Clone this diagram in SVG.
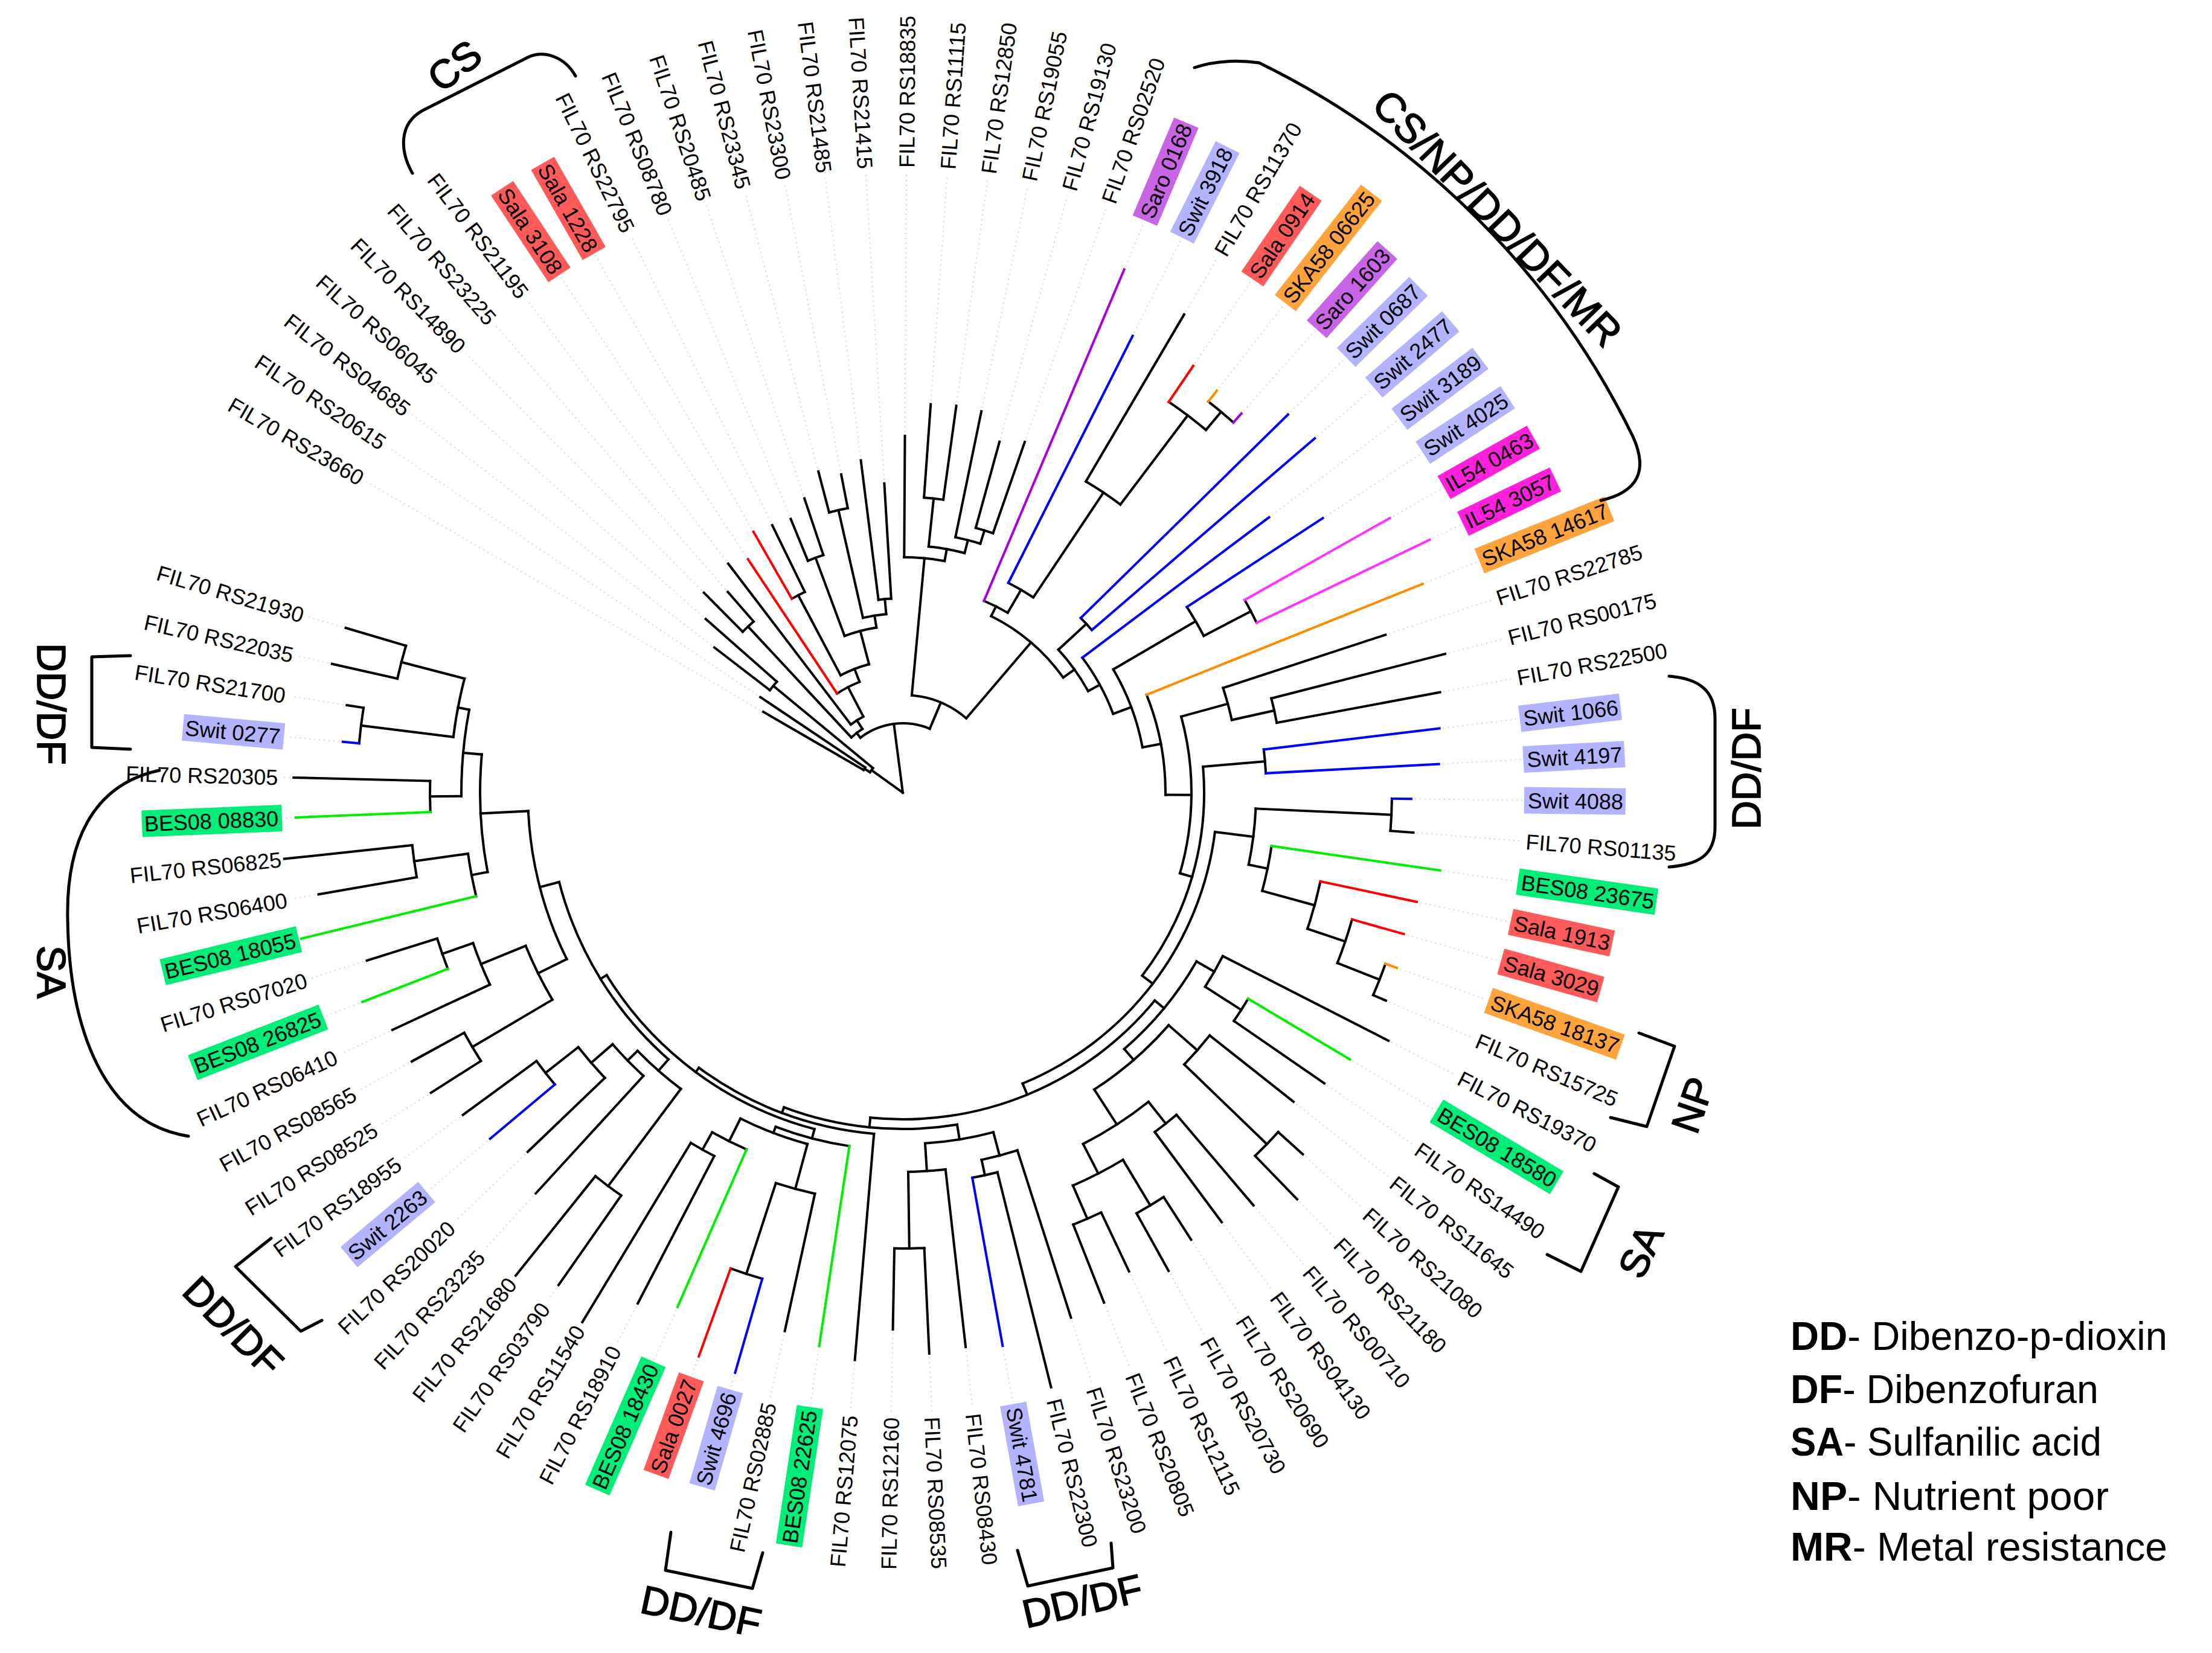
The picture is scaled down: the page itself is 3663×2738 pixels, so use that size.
<svg xmlns="http://www.w3.org/2000/svg" width="3663" height="2738" viewBox="0 0 3663 2738">
<style>
.t{font-family:"Liberation Sans",Arial,sans-serif;font-size:36px;fill:#000}
.l{text-anchor:end}
.g{stroke:#d6d6d6;stroke-width:2;stroke-dasharray:2 6;fill:none}
.a{font-family:"Liberation Sans",Arial,sans-serif;font-size:66px;fill:#000;stroke:#000;stroke-width:1.6px;text-anchor:middle}
.br{fill:none;stroke:#000;stroke-width:5;stroke-linecap:round;stroke-linejoin:round}
.r{stroke:#f00}.u{stroke:#00f}.e{stroke:#0e0}.o{stroke:#ff8c00}.p{stroke:#a0d}.m{stroke:#f3f}
.bs{fill:#ff5a5a}.bw{fill:#b3b3ff}.bo{fill:#c864e6}.bk{fill:#ffa33c}.bi{fill:#ff20dc}.bb{fill:#00ee77}
</style>
<rect width="3663" height="2738" fill="#fff"/>
<g id="connectors" transform="translate(1495 1313)" fill="none" stroke="#000" stroke-width="4" stroke-linecap="square">
<path d="M0 0H64" transform="rotate(215.76)"/><path d="M0 0H115" transform="rotate(262.6)"/>
<circle r="64" pathLength="360" stroke-dasharray="7.53 999" transform="rotate(211.99)"/><path d="M64 0H75" transform="rotate(211.99)"/><path d="M64 0H278" transform="rotate(219.52)"/>
<circle r="75" pathLength="360" stroke-dasharray="3.77 999" transform="rotate(210.1)"/><path d="M75 0H267" transform="rotate(210.1)"/><path d="M75 0H284" transform="rotate(213.87)"/>
<circle r="278" pathLength="360" stroke-dasharray="3.77 999" transform="rotate(217.63)"/><path d="M278 0H394" transform="rotate(217.63)"/><path d="M278 0H435" transform="rotate(221.4)"/>
<circle r="115" pathLength="360" stroke-dasharray="60.53 999" transform="rotate(232.34)"/><path d="M115 0H125" transform="rotate(232.34)"/><path d="M115 0H162" transform="rotate(292.87)"/>
<circle r="125" pathLength="360" stroke-dasharray="10.59 999" transform="rotate(227.04)"/><path d="M125 0H376" transform="rotate(227.04)"/><path d="M125 0H142" transform="rotate(237.63)"/>
<circle r="376" pathLength="360" stroke-dasharray="3.77 999" transform="rotate(225.16)"/><path d="M376 0H467" transform="rotate(225.16)"/><path d="M376 0H441" transform="rotate(228.93)"/>
<circle r="142" pathLength="360" stroke-dasharray="9.89 999" transform="rotate(232.69)"/><path d="M142 0H477" transform="rotate(232.69)"/><path d="M142 0H197" transform="rotate(242.58)"/>
<circle r="197" pathLength="360" stroke-dasharray="12.23 999" transform="rotate(236.46)"/><path class="r" d="M197 0H464" transform="rotate(236.46)"/><path d="M197 0H220" transform="rotate(248.69)"/>
<circle r="220" pathLength="360" stroke-dasharray="13.18 999" transform="rotate(242.1)"/><path d="M220 0H370" transform="rotate(242.1)"/><path d="M220 0H277" transform="rotate(255.28)"/>
<circle r="370" pathLength="360" stroke-dasharray="3.77 999" transform="rotate(240.22)"/><path class="r" d="M370 0H498" transform="rotate(240.22)"/><path d="M370 0H493" transform="rotate(243.99)"/>
<circle r="277" pathLength="360" stroke-dasharray="11.3 999" transform="rotate(249.63)"/><path d="M277 0H415" transform="rotate(249.63)"/><path d="M277 0H297" transform="rotate(260.93)"/>
<circle r="415" pathLength="360" stroke-dasharray="3.77 999" transform="rotate(247.75)"/><path d="M415 0H490" transform="rotate(247.75)"/><path d="M415 0H514" transform="rotate(251.52)"/>
<circle r="297" pathLength="360" stroke-dasharray="7.53 999" transform="rotate(257.17)"/><path d="M297 0H480" transform="rotate(257.17)"/><path d="M297 0H322" transform="rotate(264.7)"/>
<circle r="480" pathLength="360" stroke-dasharray="3.77 999" transform="rotate(255.28)"/><path d="M480 0H550" transform="rotate(255.28)"/><path d="M480 0H537" transform="rotate(259.05)"/>
<circle r="322" pathLength="360" stroke-dasharray="3.77 999" transform="rotate(262.81)"/><path d="M322 0H555" transform="rotate(262.81)"/><path d="M322 0H513" transform="rotate(266.58)"/>
<circle r="162" pathLength="360" stroke-dasharray="35.18 999" transform="rotate(275.28)"/><path d="M162 0H390" transform="rotate(275.28)"/><path d="M162 0H327" transform="rotate(310.46)"/>
<circle r="390" pathLength="360" stroke-dasharray="9.89 999" transform="rotate(270.34)"/><path d="M390 0H591" transform="rotate(270.34)"/><path d="M390 0H410" transform="rotate(280.23)"/>
<circle r="410" pathLength="360" stroke-dasharray="8.47 999" transform="rotate(275.99)"/><path d="M410 0H490" transform="rotate(275.99)"/><path d="M410 0H432" transform="rotate(284.46)"/>
<circle r="490" pathLength="360" stroke-dasharray="3.76 999" transform="rotate(274.11)"/><path d="M490 0H645" transform="rotate(274.11)"/><path d="M490 0H647" transform="rotate(277.87)"/>
<circle r="432" pathLength="360" stroke-dasharray="5.65 999" transform="rotate(281.64)"/><path d="M432 0H645" transform="rotate(281.64)"/><path d="M432 0H455" transform="rotate(287.29)"/>
<circle r="455" pathLength="360" stroke-dasharray="3.77 999" transform="rotate(285.4)"/><path d="M455 0H603" transform="rotate(285.4)"/><path d="M455 0H615" transform="rotate(289.17)"/>
<circle r="327" pathLength="360" stroke-dasharray="27.75 999" transform="rotate(296.58)"/><path d="M327 0H345" transform="rotate(296.58)"/><path d="M327 0H350" transform="rotate(324.33)"/>
<circle r="345" pathLength="360" stroke-dasharray="7.3 999" transform="rotate(292.93)"/><path class="p" d="M345 0H941" transform="rotate(292.93)"/><path d="M345 0H389" transform="rotate(300.23)"/>
<circle r="389" pathLength="360" stroke-dasharray="7.06 999" transform="rotate(296.7)"/><path class="u" d="M389 0H847" transform="rotate(296.7)"/><path d="M389 0H598" transform="rotate(303.76)"/>
<circle r="598" pathLength="360" stroke-dasharray="6.59 999" transform="rotate(300.46)"/><path d="M598 0H919" transform="rotate(300.46)"/><path d="M598 0H783" transform="rotate(307.05)"/>
<circle r="783" pathLength="360" stroke-dasharray="5.65 999" transform="rotate(304.23)"/><path class="r" d="M783 0H855" transform="rotate(304.23)"/><path d="M783 0H822" transform="rotate(309.88)"/>
<circle r="822" pathLength="360" stroke-dasharray="3.77 999" transform="rotate(307.99)"/><path class="o" d="M822 0H845" transform="rotate(307.99)"/><path class="p" d="M822 0H842" transform="rotate(311.76)"/>
<circle r="350" pathLength="360" stroke-dasharray="13.86 999" transform="rotate(317.4)"/><path d="M350 0H413" transform="rotate(317.4)"/><path d="M350 0H372" transform="rotate(331.26)"/>
<circle r="413" pathLength="360" stroke-dasharray="3.77 999" transform="rotate(315.52)"/><path class="u" d="M413 0H894" transform="rotate(315.52)"/><path class="u" d="M413 0H900" transform="rotate(319.29)"/>
<circle r="372" pathLength="360" stroke-dasharray="16.41 999" transform="rotate(323.05)"/><path class="u" d="M372 0H759" transform="rotate(323.05)"/><path d="M372 0H404" transform="rotate(339.46)"/>
<circle r="404" pathLength="360" stroke-dasharray="19.65 999" transform="rotate(329.64)"/><path d="M404 0H562" transform="rotate(329.64)"/><path d="M404 0H435" transform="rotate(349.29)"/>
<circle r="562" pathLength="360" stroke-dasharray="5.65 999" transform="rotate(326.82)"/><path class="u" d="M562 0H831" transform="rotate(326.82)"/><path d="M562 0H650" transform="rotate(332.47)"/>
<circle r="650" pathLength="360" stroke-dasharray="3.77 999" transform="rotate(330.58)"/><path class="m" d="M650 0H926" transform="rotate(330.58)"/><path class="m" d="M650 0H968" transform="rotate(334.35)"/>
<circle r="435" pathLength="360" stroke-dasharray="22.35 999" transform="rotate(338.11)"/><path class="o" d="M435 0H928" transform="rotate(338.11)"/><path d="M435 0H478" transform="rotate(360.46)"/>
<circle r="478" pathLength="360" stroke-dasharray="31.52 999" transform="rotate(344.7)"/><path d="M478 0H558" transform="rotate(344.7)"/><path d="M478 0H499" transform="rotate(376.22)"/>
<circle r="558" pathLength="360" stroke-dasharray="5.65 999" transform="rotate(341.88)"/><path d="M558 0H841" transform="rotate(341.88)"/><path d="M558 0H630" transform="rotate(347.53)"/>
<circle r="630" pathLength="360" stroke-dasharray="3.77 999" transform="rotate(345.64)"/><path d="M630 0H927" transform="rotate(345.64)"/><path d="M630 0H905" transform="rotate(349.41)"/>
<circle r="499" pathLength="360" stroke-dasharray="42.34 999" transform="rotate(355.05)"/><path d="M499 0H602" transform="rotate(355.05)"/><path d="M499 0H521" transform="rotate(397.39)"/>
<circle r="602" pathLength="360" stroke-dasharray="3.77 999" transform="rotate(353.17)"/><path class="u" d="M602 0H895" transform="rotate(353.17)"/><path class="u" d="M602 0H889" transform="rotate(356.94)"/>
<circle r="521" pathLength="360" stroke-dasharray="60.44 999" transform="rotate(367.17)"/><path d="M521 0H585" transform="rotate(367.17)"/><path d="M521 0H541" transform="rotate(427.61)"/>
<circle r="585" pathLength="360" stroke-dasharray="9.17 999" transform="rotate(362.59)"/><path d="M585 0H810" transform="rotate(362.59)"/><path d="M585 0H617" transform="rotate(371.76)"/>
<circle r="810" pathLength="360" stroke-dasharray="3.77 999" transform="rotate(360.7)"/><path class="u" d="M810 0H842" transform="rotate(360.7)"/><path d="M810 0H848" transform="rotate(364.47)"/>
<circle r="617" pathLength="360" stroke-dasharray="7.06 999" transform="rotate(368.23)"/><path class="e" d="M617 0H899" transform="rotate(368.23)"/><path d="M617 0H707" transform="rotate(375.29)"/>
<circle r="707" pathLength="360" stroke-dasharray="6.59 999" transform="rotate(372)"/><path class="r" d="M707 0H870" transform="rotate(372)"/><path d="M707 0H773" transform="rotate(378.59)"/>
<circle r="773" pathLength="360" stroke-dasharray="5.65 999" transform="rotate(375.76)"/><path class="r" d="M773 0H862" transform="rotate(375.76)"/><path d="M773 0H848" transform="rotate(381.41)"/>
<circle r="848" pathLength="360" stroke-dasharray="3.76 999" transform="rotate(379.53)"/><path class="o" d="M848 0H868" transform="rotate(379.53)"/><path d="M848 0H871" transform="rotate(383.29)"/>
<circle r="541" pathLength="360" stroke-dasharray="56.17 999" transform="rotate(399.53)"/><path d="M541 0H561" transform="rotate(399.53)"/><path d="M541 0H557" transform="rotate(455.7)"/>
<circle r="561" pathLength="360" stroke-dasharray="19.3 999" transform="rotate(389.88)"/><path d="M561 0H595" transform="rotate(389.88)"/><path d="M561 0H585" transform="rotate(409.18)"/>
<circle r="595" pathLength="360" stroke-dasharray="5.64 999" transform="rotate(387.06)"/><path d="M595 0H903" transform="rotate(387.06)"/><path d="M595 0H666" transform="rotate(392.7)"/>
<circle r="666" pathLength="360" stroke-dasharray="3.77 999" transform="rotate(390.82)"/><path class="e" d="M666 0H862" transform="rotate(390.82)"/><path d="M666 0H848" transform="rotate(394.59)"/>
<circle r="585" pathLength="360" stroke-dasharray="16 999" transform="rotate(401.18)"/><path d="M585 0H648" transform="rotate(401.18)"/><path d="M585 0H654" transform="rotate(417.18)"/>
<circle r="648" pathLength="360" stroke-dasharray="5.65 999" transform="rotate(398.35)"/><path d="M648 0H825" transform="rotate(398.35)"/><path d="M648 0H838" transform="rotate(404)"/>
<circle r="838" pathLength="360" stroke-dasharray="3.76 999" transform="rotate(402.12)"/><path d="M838 0H893" transform="rotate(402.12)"/><path d="M838 0H938" transform="rotate(405.88)"/>
<circle r="654" pathLength="360" stroke-dasharray="11.3 999" transform="rotate(411.53)"/><path d="M654 0H700" transform="rotate(411.53)"/><path d="M654 0H709" transform="rotate(422.83)"/>
<circle r="700" pathLength="360" stroke-dasharray="3.76 999" transform="rotate(409.65)"/><path d="M700 0H897" transform="rotate(409.65)"/><path d="M700 0H886" transform="rotate(413.41)"/>
<circle r="709" pathLength="360" stroke-dasharray="7.53 999" transform="rotate(419.06)"/><path d="M709 0H797" transform="rotate(419.06)"/><path d="M709 0H769" transform="rotate(426.59)"/>
<circle r="797" pathLength="360" stroke-dasharray="3.76 999" transform="rotate(417.18)"/><path d="M797 0H881" transform="rotate(417.18)"/><path d="M797 0H906" transform="rotate(420.94)"/>
<circle r="769" pathLength="360" stroke-dasharray="3.76 999" transform="rotate(424.71)"/><path d="M769 0H877" transform="rotate(424.71)"/><path d="M769 0H908" transform="rotate(428.47)"/>
<circle r="557" pathLength="360" stroke-dasharray="29.97 999" transform="rotate(440.71)"/><path d="M557 0H582" transform="rotate(440.71)"/><path d="M557 0H567" transform="rotate(470.68)"/>
<circle r="582" pathLength="360" stroke-dasharray="11.29 999" transform="rotate(435.07)"/><path d="M582 0H622" transform="rotate(435.07)"/><path d="M582 0H628" transform="rotate(446.36)"/>
<circle r="622" pathLength="360" stroke-dasharray="5.65 999" transform="rotate(432.24)"/><path d="M622 0H913" transform="rotate(432.24)"/><path d="M622 0H648" transform="rotate(437.89)"/>
<circle r="648" pathLength="360" stroke-dasharray="3.77 999" transform="rotate(436)"/><path d="M648 0H1015" transform="rotate(436)"/><path class="u" d="M648 0H931" transform="rotate(439.77)"/>
<circle r="628" pathLength="360" stroke-dasharray="5.65 999" transform="rotate(443.53)"/><path d="M628 0H924" transform="rotate(443.53)"/><path d="M628 0H755" transform="rotate(449.18)"/>
<circle r="755" pathLength="360" stroke-dasharray="3.76 999" transform="rotate(447.3)"/><path d="M755 0H930" transform="rotate(447.3)"/><path d="M755 0H889" transform="rotate(451.06)"/>
<circle r="567" pathLength="360" stroke-dasharray="31.71 999" transform="rotate(454.83)"/><path d="M567 0H943" transform="rotate(454.83)"/><path d="M567 0H576" transform="rotate(486.54)"/>
<circle r="576" pathLength="360" stroke-dasharray="43.65 999" transform="rotate(464.71)"/><path d="M576 0H592" transform="rotate(464.71)"/><path d="M576 0H588" transform="rotate(508.36)"/>
<circle r="592" pathLength="360" stroke-dasharray="12.24 999" transform="rotate(458.59)"/><path class="e" d="M592 0H927" transform="rotate(458.59)"/><path d="M592 0H603" transform="rotate(470.83)"/>
<circle r="603" pathLength="360" stroke-dasharray="11.3 999" transform="rotate(465.18)"/><path d="M603 0H680" transform="rotate(465.18)"/><path d="M603 0H645" transform="rotate(476.48)"/>
<circle r="680" pathLength="360" stroke-dasharray="5.65 999" transform="rotate(462.36)"/><path d="M680 0H913" transform="rotate(462.36)"/><path d="M680 0H838" transform="rotate(468.01)"/>
<circle r="838" pathLength="360" stroke-dasharray="3.77 999" transform="rotate(466.12)"/><path class="u" d="M838 0H1000" transform="rotate(466.12)"/><path class="r" d="M838 0H993" transform="rotate(469.89)"/>
<circle r="645" pathLength="360" stroke-dasharray="5.65 999" transform="rotate(473.65)"/><path class="e" d="M645 0H930" transform="rotate(473.65)"/><path d="M645 0H678" transform="rotate(479.3)"/>
<circle r="678" pathLength="360" stroke-dasharray="3.76 999" transform="rotate(477.42)"/><path d="M678 0H953" transform="rotate(477.42)"/><path d="M678 0H1025" transform="rotate(481.18)"/>
<circle r="588" pathLength="360" stroke-dasharray="34.12 999" transform="rotate(491.3)"/><path d="M588 0H613" transform="rotate(491.3)"/><path d="M588 0H621" transform="rotate(525.42)"/>
<circle r="613" pathLength="360" stroke-dasharray="8.94 999" transform="rotate(486.83)"/><path d="M613 0H814" transform="rotate(486.83)"/><path d="M613 0H636" transform="rotate(495.77)"/>
<circle r="814" pathLength="360" stroke-dasharray="3.76 999" transform="rotate(484.95)"/><path d="M814 0H995" transform="rotate(484.95)"/><path d="M814 0H1025" transform="rotate(488.71)"/>
<circle r="636" pathLength="360" stroke-dasharray="6.59 999" transform="rotate(492.48)"/><path d="M636 0H900" transform="rotate(492.48)"/><path d="M636 0H683" transform="rotate(499.07)"/>
<circle r="683" pathLength="360" stroke-dasharray="5.65 999" transform="rotate(496.24)"/><path d="M683 0H860" transform="rotate(496.24)"/><path d="M683 0H752" transform="rotate(501.89)"/>
<circle r="752" pathLength="360" stroke-dasharray="3.76 999" transform="rotate(500.01)"/><path class="u" d="M752 0H892" transform="rotate(500.01)"/><path d="M752 0H903" transform="rotate(503.77)"/>
<circle r="621" pathLength="360" stroke-dasharray="23.54 999" transform="rotate(513.65)"/><path d="M621 0H674" transform="rotate(513.65)"/><path d="M621 0H700" transform="rotate(537.19)"/>
<circle r="674" pathLength="360" stroke-dasharray="8.47 999" transform="rotate(509.42)"/><path d="M674 0H828" transform="rotate(509.42)"/><path d="M674 0H754" transform="rotate(517.89)"/>
<circle r="828" pathLength="360" stroke-dasharray="3.76 999" transform="rotate(507.54)"/><path d="M828 0H926" transform="rotate(507.54)"/><path d="M828 0H927" transform="rotate(511.3)"/>
<circle r="754" pathLength="360" stroke-dasharray="5.64 999" transform="rotate(515.07)"/><path d="M754 0H932" transform="rotate(515.07)"/><path d="M754 0H808" transform="rotate(520.71)"/>
<circle r="808" pathLength="360" stroke-dasharray="3.77 999" transform="rotate(518.83)"/><path class="e" d="M808 0H960" transform="rotate(518.83)"/><path d="M808 0H930" transform="rotate(522.6)"/>
<circle r="700" pathLength="360" stroke-dasharray="16.01 999" transform="rotate(529.18)"/><path d="M700 0H727" transform="rotate(529.18)"/><path d="M700 0H731" transform="rotate(545.19)"/>
<circle r="727" pathLength="360" stroke-dasharray="5.65 999" transform="rotate(526.36)"/><path class="e" d="M727 0H1025" transform="rotate(526.36)"/><path d="M727 0H817" transform="rotate(532.01)"/>
<circle r="817" pathLength="360" stroke-dasharray="3.76 999" transform="rotate(530.13)"/><path d="M817 0H982" transform="rotate(530.13)"/><path d="M817 0H1030" transform="rotate(533.89)"/>
<circle r="731" pathLength="360" stroke-dasharray="11.3 999" transform="rotate(539.54)"/><path d="M731 0H783" transform="rotate(539.54)"/><path d="M731 0H750" transform="rotate(550.84)"/>
<circle r="783" pathLength="360" stroke-dasharray="3.76 999" transform="rotate(537.66)"/><path class="e" d="M783 0H1006" transform="rotate(537.66)"/><path d="M783 0H1009" transform="rotate(541.42)"/>
<circle r="750" pathLength="360" stroke-dasharray="7.53 999" transform="rotate(547.07)"/><path d="M750 0H904" transform="rotate(547.07)"/><path d="M750 0H858" transform="rotate(554.6)"/>
<circle r="904" pathLength="360" stroke-dasharray="3.76 999" transform="rotate(545.19)"/><path class="u" d="M904 0H931" transform="rotate(545.19)"/><path d="M904 0H932" transform="rotate(548.95)"/>
<circle r="858" pathLength="360" stroke-dasharray="3.76 999" transform="rotate(552.72)"/><path d="M858 0H969" transform="rotate(552.72)"/><path d="M858 0H962" transform="rotate(556.48)"/>
</g>
<g id="leaves" transform="translate(1495 1313)">
<g id="leaf0" transform="rotate(210.1)"><path class="g" d="M273 0H1026"/><text class="t l" transform="rotate(180)" x="-1035" y="13">FIL70 RS23660</text></g>
<g id="leaf1" transform="rotate(213.87)"><path class="g" d="M290 0H1026"/><text class="t l" transform="rotate(180)" x="-1035" y="13">FIL70 RS20615</text></g>
<g id="leaf2" transform="rotate(217.63)"><path class="g" d="M400 0H1026"/><text class="t l" transform="rotate(180)" x="-1035" y="13">FIL70 RS04685</text></g>
<g id="leaf3" transform="rotate(221.4)"><path class="g" d="M441 0H1026"/><text class="t l" transform="rotate(180)" x="-1035" y="13">FIL70 RS06045</text></g>
<g id="leaf4" transform="rotate(225.16)"><path class="g" d="M473 0H1026"/><text class="t l" transform="rotate(180)" x="-1035" y="13">FIL70 RS14890</text></g>
<g id="leaf5" transform="rotate(228.93)"><path class="g" d="M447 0H1026"/><text class="t l" transform="rotate(180)" x="-1035" y="13">FIL70 RS23225</text></g>
<g id="leaf6" transform="rotate(232.69)"><path class="g" d="M483 0H1026"/><text class="t l" transform="rotate(180)" x="-1035" y="13">FIL70 RS21195</text></g>
<g id="leaf7" transform="rotate(236.46)"><path class="g" d="M470 0H1026"/><rect class="bs" x="1029" y="-22" width="172" height="44"/><text class="t l" transform="rotate(180)" x="-1035" y="13">Sala 3108</text></g>
<g id="leaf8" transform="rotate(240.22)"><path class="g" d="M504 0H1026"/><rect class="bs" x="1029" y="-22" width="172" height="44"/><text class="t l" transform="rotate(180)" x="-1035" y="13">Sala 1228</text></g>
<g id="leaf9" transform="rotate(243.99)"><path class="g" d="M499 0H1026"/><text class="t l" transform="rotate(180)" x="-1035" y="13">FIL70 RS22795</text></g>
<g id="leaf10" transform="rotate(247.75)"><path class="g" d="M496 0H1026"/><text class="t l" transform="rotate(180)" x="-1035" y="13">FIL70 RS08780</text></g>
<g id="leaf11" transform="rotate(251.52)"><path class="g" d="M520 0H1026"/><text class="t l" transform="rotate(180)" x="-1035" y="13">FIL70 RS20485</text></g>
<g id="leaf12" transform="rotate(255.28)"><path class="g" d="M556 0H1026"/><text class="t l" transform="rotate(180)" x="-1035" y="13">FIL70 RS23345</text></g>
<g id="leaf13" transform="rotate(259.05)"><path class="g" d="M543 0H1026"/><text class="t l" transform="rotate(180)" x="-1035" y="13">FIL70 RS23300</text></g>
<g id="leaf14" transform="rotate(262.81)"><path class="g" d="M561 0H1026"/><text class="t l" transform="rotate(180)" x="-1035" y="13">FIL70 RS21485</text></g>
<g id="leaf15" transform="rotate(266.58)"><path class="g" d="M519 0H1026"/><text class="t l" transform="rotate(180)" x="-1035" y="13">FIL70 RS21415</text></g>
<g id="leaf16" transform="rotate(270.34)"><path class="g" d="M597 0H1026"/><text class="t" x="1035" y="13">FIL70 RS18835</text></g>
<g id="leaf17" transform="rotate(274.11)"><path class="g" d="M651 0H1026"/><text class="t" x="1035" y="13">FIL70 RS11115</text></g>
<g id="leaf18" transform="rotate(277.87)"><path class="g" d="M653 0H1026"/><text class="t" x="1035" y="13">FIL70 RS12850</text></g>
<g id="leaf19" transform="rotate(281.64)"><path class="g" d="M651 0H1026"/><text class="t" x="1035" y="13">FIL70 RS19055</text></g>
<g id="leaf20" transform="rotate(285.4)"><path class="g" d="M609 0H1026"/><text class="t" x="1035" y="13">FIL70 RS19130</text></g>
<g id="leaf21" transform="rotate(289.17)"><path class="g" d="M621 0H1026"/><text class="t" x="1035" y="13">FIL70 RS02520</text></g>
<g id="leaf22" transform="rotate(292.93)"><path class="g" d="M947 0H1026"/><rect class="bo" x="1029" y="-22" width="176" height="44"/><text class="t" x="1035" y="13">Saro 0168</text></g>
<g id="leaf23" transform="rotate(296.7)"><path class="g" d="M853 0H1026"/><rect class="bw" x="1029" y="-22" width="168" height="44"/><text class="t" x="1035" y="13">Swit 3918</text></g>
<g id="leaf24" transform="rotate(300.46)"><path class="g" d="M925 0H1026"/><text class="t" x="1035" y="13">FIL70 RS11370</text></g>
<g id="leaf25" transform="rotate(304.23)"><path class="g" d="M861 0H1026"/><rect class="bs" x="1029" y="-22" width="172" height="44"/><text class="t" x="1035" y="13">Sala 0914</text></g>
<g id="leaf26" transform="rotate(307.99)"><path class="g" d="M851 0H1026"/><rect class="bk" x="1029" y="-22" width="232" height="44"/><text class="t" x="1035" y="13">SKA58 06625</text></g>
<g id="leaf27" transform="rotate(311.76)"><path class="g" d="M848 0H1026"/><rect class="bo" x="1029" y="-22" width="176" height="44"/><text class="t" x="1035" y="13">Saro 1603</text></g>
<g id="leaf28" transform="rotate(315.52)"><path class="g" d="M900 0H1026"/><rect class="bw" x="1029" y="-22" width="168" height="44"/><text class="t" x="1035" y="13">Swit 0687</text></g>
<g id="leaf29" transform="rotate(319.29)"><path class="g" d="M906 0H1026"/><rect class="bw" x="1029" y="-22" width="168" height="44"/><text class="t" x="1035" y="13">Swit 2477</text></g>
<g id="leaf30" transform="rotate(323.05)"><path class="g" d="M765 0H1026"/><rect class="bw" x="1029" y="-22" width="168" height="44"/><text class="t" x="1035" y="13">Swit 3189</text></g>
<g id="leaf31" transform="rotate(326.82)"><path class="g" d="M837 0H1026"/><rect class="bw" x="1029" y="-22" width="168" height="44"/><text class="t" x="1035" y="13">Swit 4025</text></g>
<g id="leaf32" transform="rotate(330.58)"><path class="g" d="M932 0H1026"/><rect class="bi" x="1029" y="-22" width="170" height="44"/><text class="t" x="1035" y="13">IL54 0463</text></g>
<g id="leaf33" transform="rotate(334.35)"><path class="g" d="M974 0H1026"/><rect class="bi" x="1029" y="-22" width="170" height="44"/><text class="t" x="1035" y="13">IL54 3057</text></g>
<g id="leaf34" transform="rotate(338.11)"><path class="g" d="M934 0H1026"/><rect class="bk" x="1029" y="-22" width="232" height="44"/><text class="t" x="1035" y="13">SKA58 14617</text></g>
<g id="leaf35" transform="rotate(341.88)"><path class="g" d="M847 0H1026"/><text class="t" x="1035" y="13">FIL70 RS22785</text></g>
<g id="leaf36" transform="rotate(345.64)"><path class="g" d="M933 0H1026"/><text class="t" x="1035" y="13">FIL70 RS00175</text></g>
<g id="leaf37" transform="rotate(349.41)"><path class="g" d="M911 0H1026"/><text class="t" x="1035" y="13">FIL70 RS22500</text></g>
<g id="leaf38" transform="rotate(353.17)"><path class="g" d="M901 0H1026"/><rect class="bw" x="1029" y="-22" width="168" height="44"/><text class="t" x="1035" y="13">Swit 1066</text></g>
<g id="leaf39" transform="rotate(356.94)"><path class="g" d="M895 0H1026"/><rect class="bw" x="1029" y="-22" width="168" height="44"/><text class="t" x="1035" y="13">Swit 4197</text></g>
<g id="leaf40" transform="rotate(360.7)"><path class="g" d="M848 0H1026"/><rect class="bw" x="1029" y="-22" width="168" height="44"/><text class="t" x="1035" y="13">Swit 4088</text></g>
<g id="leaf41" transform="rotate(364.47)"><path class="g" d="M854 0H1026"/><text class="t" x="1035" y="13">FIL70 RS01135</text></g>
<g id="leaf42" transform="rotate(368.23)"><path class="g" d="M905 0H1026"/><rect class="bb" x="1029" y="-22" width="232" height="44"/><text class="t" x="1035" y="13">BES08 23675</text></g>
<g id="leaf43" transform="rotate(372)"><path class="g" d="M876 0H1026"/><rect class="bs" x="1029" y="-22" width="172" height="44"/><text class="t" x="1035" y="13">Sala 1913</text></g>
<g id="leaf44" transform="rotate(375.76)"><path class="g" d="M868 0H1026"/><rect class="bs" x="1029" y="-22" width="172" height="44"/><text class="t" x="1035" y="13">Sala 3029</text></g>
<g id="leaf45" transform="rotate(379.53)"><path class="g" d="M874 0H1026"/><rect class="bk" x="1029" y="-22" width="232" height="44"/><text class="t" x="1035" y="13">SKA58 18137</text></g>
<g id="leaf46" transform="rotate(383.29)"><path class="g" d="M877 0H1026"/><text class="t" x="1035" y="13">FIL70 RS15725</text></g>
<g id="leaf47" transform="rotate(387.06)"><path class="g" d="M909 0H1026"/><text class="t" x="1035" y="13">FIL70 RS19370</text></g>
<g id="leaf48" transform="rotate(390.82)"><path class="g" d="M868 0H1026"/><rect class="bb" x="1029" y="-22" width="232" height="44"/><text class="t" x="1035" y="13">BES08 18580</text></g>
<g id="leaf49" transform="rotate(394.59)"><path class="g" d="M854 0H1026"/><text class="t" x="1035" y="13">FIL70 RS14490</text></g>
<g id="leaf50" transform="rotate(398.35)"><path class="g" d="M831 0H1026"/><text class="t" x="1035" y="13">FIL70 RS11645</text></g>
<g id="leaf51" transform="rotate(402.12)"><path class="g" d="M899 0H1026"/><text class="t" x="1035" y="13">FIL70 RS21080</text></g>
<g id="leaf52" transform="rotate(405.88)"><path class="g" d="M944 0H1026"/><text class="t" x="1035" y="13">FIL70 RS21180</text></g>
<g id="leaf53" transform="rotate(409.65)"><path class="g" d="M903 0H1026"/><text class="t" x="1035" y="13">FIL70 RS00710</text></g>
<g id="leaf54" transform="rotate(413.41)"><path class="g" d="M892 0H1026"/><text class="t" x="1035" y="13">FIL70 RS04130</text></g>
<g id="leaf55" transform="rotate(417.18)"><path class="g" d="M887 0H1026"/><text class="t" x="1035" y="13">FIL70 RS20690</text></g>
<g id="leaf56" transform="rotate(420.94)"><path class="g" d="M912 0H1026"/><text class="t" x="1035" y="13">FIL70 RS20730</text></g>
<g id="leaf57" transform="rotate(424.71)"><path class="g" d="M883 0H1026"/><text class="t" x="1035" y="13">FIL70 RS12115</text></g>
<g id="leaf58" transform="rotate(428.47)"><path class="g" d="M914 0H1026"/><text class="t" x="1035" y="13">FIL70 RS20805</text></g>
<g id="leaf59" transform="rotate(432.24)"><path class="g" d="M919 0H1026"/><text class="t" x="1035" y="13">FIL70 RS23200</text></g>
<g id="leaf60" transform="rotate(436)"><text class="t" x="1035" y="13">FIL70 RS22300</text></g>
<g id="leaf61" transform="rotate(439.77)"><path class="g" d="M937 0H1026"/><rect class="bw" x="1029" y="-22" width="168" height="44"/><text class="t" x="1035" y="13">Swit 4781</text></g>
<g id="leaf62" transform="rotate(443.53)"><path class="g" d="M930 0H1026"/><text class="t" x="1035" y="13">FIL70 RS08430</text></g>
<g id="leaf63" transform="rotate(447.3)"><path class="g" d="M936 0H1026"/><text class="t" x="1035" y="13">FIL70 RS08535</text></g>
<g id="leaf64" transform="rotate(451.06)"><path class="g" d="M895 0H1026"/><text class="t l" transform="rotate(180)" x="-1035" y="13">FIL70 RS12160</text></g>
<g id="leaf65" transform="rotate(454.83)"><path class="g" d="M949 0H1026"/><text class="t l" transform="rotate(180)" x="-1035" y="13">FIL70 RS12075</text></g>
<g id="leaf66" transform="rotate(458.59)"><path class="g" d="M933 0H1026"/><rect class="bb" x="1029" y="-22" width="232" height="44"/><text class="t l" transform="rotate(180)" x="-1035" y="13">BES08 22625</text></g>
<g id="leaf67" transform="rotate(462.36)"><path class="g" d="M919 0H1026"/><text class="t l" transform="rotate(180)" x="-1035" y="13">FIL70 RS02885</text></g>
<g id="leaf68" transform="rotate(466.12)"><path class="g" d="M1006 0H1026"/><rect class="bw" x="1029" y="-22" width="168" height="44"/><text class="t l" transform="rotate(180)" x="-1035" y="13">Swit 4696</text></g>
<g id="leaf69" transform="rotate(469.89)"><path class="g" d="M999 0H1026"/><rect class="bs" x="1029" y="-22" width="172" height="44"/><text class="t l" transform="rotate(180)" x="-1035" y="13">Sala 0027</text></g>
<g id="leaf70" transform="rotate(473.65)"><path class="g" d="M936 0H1026"/><rect class="bb" x="1029" y="-22" width="232" height="44"/><text class="t l" transform="rotate(180)" x="-1035" y="13">BES08 18430</text></g>
<g id="leaf71" transform="rotate(477.42)"><path class="g" d="M959 0H1026"/><text class="t l" transform="rotate(180)" x="-1035" y="13">FIL70 RS18910</text></g>
<g id="leaf72" transform="rotate(481.18)"><text class="t l" transform="rotate(180)" x="-1035" y="13">FIL70 RS11540</text></g>
<g id="leaf73" transform="rotate(484.95)"><path class="g" d="M1001 0H1026"/><text class="t l" transform="rotate(180)" x="-1035" y="13">FIL70 RS03790</text></g>
<g id="leaf74" transform="rotate(488.71)"><text class="t l" transform="rotate(180)" x="-1035" y="13">FIL70 RS21680</text></g>
<g id="leaf75" transform="rotate(492.48)"><path class="g" d="M906 0H1026"/><text class="t l" transform="rotate(180)" x="-1035" y="13">FIL70 RS23235</text></g>
<g id="leaf76" transform="rotate(496.24)"><path class="g" d="M866 0H1026"/><text class="t l" transform="rotate(180)" x="-1035" y="13">FIL70 RS20020</text></g>
<g id="leaf77" transform="rotate(500.01)"><path class="g" d="M898 0H1026"/><rect class="bw" x="1029" y="-22" width="168" height="44"/><text class="t l" transform="rotate(180)" x="-1035" y="13">Swit 2263</text></g>
<g id="leaf78" transform="rotate(503.77)"><path class="g" d="M909 0H1026"/><text class="t l" transform="rotate(180)" x="-1035" y="13">FIL70 RS18955</text></g>
<g id="leaf79" transform="rotate(507.54)"><path class="g" d="M932 0H1026"/><text class="t l" transform="rotate(180)" x="-1035" y="13">FIL70 RS08525</text></g>
<g id="leaf80" transform="rotate(511.3)"><path class="g" d="M933 0H1026"/><text class="t l" transform="rotate(180)" x="-1035" y="13">FIL70 RS08565</text></g>
<g id="leaf81" transform="rotate(515.07)"><path class="g" d="M938 0H1026"/><text class="t l" transform="rotate(180)" x="-1035" y="13">FIL70 RS06410</text></g>
<g id="leaf82" transform="rotate(518.83)"><path class="g" d="M966 0H1026"/><rect class="bb" x="1029" y="-22" width="232" height="44"/><text class="t l" transform="rotate(180)" x="-1035" y="13">BES08 26825</text></g>
<g id="leaf83" transform="rotate(522.6)"><path class="g" d="M936 0H1026"/><text class="t l" transform="rotate(180)" x="-1035" y="13">FIL70 RS07020</text></g>
<g id="leaf84" transform="rotate(526.36)"><rect class="bb" x="1029" y="-22" width="232" height="44"/><text class="t l" transform="rotate(180)" x="-1035" y="13">BES08 18055</text></g>
<g id="leaf85" transform="rotate(530.13)"><path class="g" d="M988 0H1026"/><text class="t l" transform="rotate(180)" x="-1035" y="13">FIL70 RS06400</text></g>
<g id="leaf86" transform="rotate(533.89)"><text class="t l" transform="rotate(180)" x="-1035" y="13">FIL70 RS06825</text></g>
<g id="leaf87" transform="rotate(537.66)"><path class="g" d="M1012 0H1026"/><rect class="bb" x="1029" y="-22" width="232" height="44"/><text class="t l" transform="rotate(180)" x="-1035" y="13">BES08 08830</text></g>
<g id="leaf88" transform="rotate(541.42)"><path class="g" d="M1015 0H1026"/><text class="t l" transform="rotate(180)" x="-1035" y="13">FIL70 RS20305</text></g>
<g id="leaf89" transform="rotate(545.19)"><path class="g" d="M937 0H1026"/><rect class="bw" x="1029" y="-22" width="168" height="44"/><text class="t l" transform="rotate(180)" x="-1035" y="13">Swit 0277</text></g>
<g id="leaf90" transform="rotate(548.95)"><path class="g" d="M938 0H1026"/><text class="t l" transform="rotate(180)" x="-1035" y="13">FIL70 RS21700</text></g>
<g id="leaf91" transform="rotate(552.72)"><path class="g" d="M975 0H1026"/><text class="t l" transform="rotate(180)" x="-1035" y="13">FIL70 RS22035</text></g>
<g id="leaf92" transform="rotate(556.48)"><path class="g" d="M968 0H1026"/><text class="t l" transform="rotate(180)" x="-1035" y="13">FIL70 RS21930</text></g>
</g>
<g id="annotations">
<g id="ann-cs"><path class="br" d="M683,287 C662,250 660,205 700,183 L874,95 C902,82 936,95 953,126"/><text class="a" transform="translate(752 108) rotate(-38)" y="24">CS</text></g>
<g id="ann-csnp"><path class="br" d="M1978,112 Q2025,96 2085,104 A1345,1345 0 0 1 2704,723 C2730,780 2712,815 2651,829"/><text class="a" style="font-size:68px" transform="translate(2480 361) rotate(46)" y="24">CS/NP/DD/DF/MR</text></g>
<g id="ann-dddf-right"><path class="br" d="M2764,1120 C2815,1124 2840,1145 2840,1190 L2840,1370 C2840,1415 2815,1432 2764,1436"/><text class="a" transform="translate(2891 1273) rotate(-90)" y="24">DD/DF</text></g>
<g id="ann-np"><path class="br" d="M2714,1711 L2773,1733 L2727,1866 L2667,1851"/><text class="a" transform="translate(2802 1830) rotate(-71)" y="24">NP</text></g>
<g id="ann-sa-right"><path class="br" d="M2640,1944 L2680,1966 L2618,2106 L2562,2078"/><text class="a" transform="translate(2716 2072) rotate(-65)" y="24">SA</text></g>
<g id="ann-sa-left"><path class="br" d="M264,1276 C150,1300 110,1400 112,1520 C114,1700 170,1860 312,1882"/><text class="a" transform="translate(86 1610) rotate(90)" y="24">SA</text></g>
<g id="ann-dddf-left"><path class="br" d="M216,1086 L152,1088 L152,1238 L216,1241"/><text class="a" transform="translate(86 1166) rotate(90)" y="24">DD/DF</text></g>
<g id="ann-dddf-bl"><path class="br" d="M449,2051 L390,2098 L498,2205 L533,2187"/><text class="a" transform="translate(387 2196) rotate(45)" y="24">DD/DF</text></g>
<g id="ann-dddf-b1"><path class="br" d="M1111,2538 L1102,2601 L1246,2631 L1263,2572"/><text class="a" transform="translate(1161 2668) rotate(12)" y="24">DD/DF</text></g>
<g id="ann-dddf-b2"><path class="br" d="M1685,2568 L1702,2627 L1843,2597 L1840,2556"/><text class="a" transform="translate(1792 2651) rotate(-13)" y="24">DD/DF</text></g>
</g>
<g id="legend" font-family="Liberation Sans, Arial, sans-serif" font-size="66" fill="#000">
<text x="2965" y="2236" textLength="624" lengthAdjust="spacingAndGlyphs"><tspan font-weight="bold">DD</tspan>- Dibenzo-p-dioxin</text>
<text x="2965" y="2324" textLength="510" lengthAdjust="spacingAndGlyphs"><tspan font-weight="bold">DF</tspan>- Dibenzofuran</text>
<text x="2965" y="2411" textLength="515" lengthAdjust="spacingAndGlyphs"><tspan font-weight="bold">SA</tspan>- Sulfanilic acid</text>
<text x="2965" y="2501" textLength="527" lengthAdjust="spacingAndGlyphs"><tspan font-weight="bold">NP</tspan>- Nutrient poor</text>
<text x="2965" y="2585" textLength="624" lengthAdjust="spacingAndGlyphs"><tspan font-weight="bold">MR</tspan>- Metal resistance</text>
</g>
</svg>
